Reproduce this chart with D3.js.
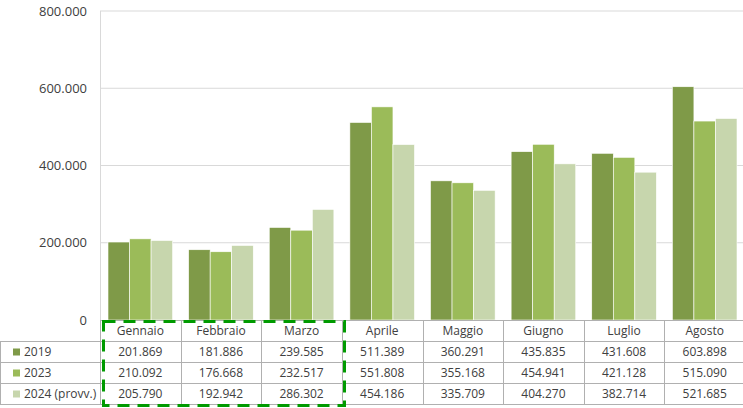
<!DOCTYPE html>
<html>
<head>
<meta charset="utf-8">
<script src="https://cdn.jsdelivr.net/npm/d3@7"></script>
<style>
  body { margin: 0; background: #fff; }
  svg { display: block; font-family: "Open Sans", "Noto Sans", sans-serif; }
</style>
</head>
<body>
<script>
const width = 743, height = 408;

const months = ["Gennaio", "Febbraio", "Marzo", "Aprile", "Maggio", "Giugno", "Luglio", "Agosto"];
const seriesNames = ["2019", "2023", "2024 (provv.)"];
const values2019 = [201869, 181886, 239585, 511389, 360291, 435835, 431608, 603898];
const values2023 = [210092, 176668, 232517, 551808, 355168, 454941, 421128, 515090];
const values2024 = [205790, 192942, 286302, 454186, 335709, 404270, 382714, 521685];
const yTicks = [0, 200000, 400000, 600000, 800000];
const colors = ["#7f9a48", "#9bbb59", "#c7d6ad"];

const series = [values2019, values2023, values2024];

const svg = d3.select("body").append("svg")
    .attr("width", width)
    .attr("height", height);

const plotLeft = 100, plotRight = 745, plotTop = 11, plotBottom = 320;

const y = d3.scaleLinear().domain([0, 800000]).range([plotBottom, plotTop]);
const x = d3.scaleBand().domain(months).range([plotLeft, plotRight]);
const xInner = d3.scaleBand().domain(seriesNames).range([8, x.bandwidth() - 8]);

const fmt = v => d3.format(",")(v).replace(/,/g, ".");

// gridlines
svg.append("g").selectAll("line")
    .data(yTicks.slice(1))
    .join("line")
    .attr("x1", plotLeft).attr("x2", plotRight)
    .attr("y1", d => y(d)).attr("y2", d => y(d))
    .attr("stroke", "#d9d9d9").attr("stroke-width", 1);

// left plot border
svg.append("line")
    .attr("x1", plotLeft + 0.5).attr("x2", plotLeft + 0.5)
    .attr("y1", plotTop).attr("y2", plotBottom)
    .attr("stroke", "#d9d9d9");

// y labels
svg.append("g").selectAll("text")
    .data(yTicks)
    .join("text")
    .attr("x", 87)
    .attr("y", d => y(d))
    .attr("dy", "0.35em")
    .attr("text-anchor", "end")
    .attr("font-size", 13)
    .attr("fill", "#404040")
    .text(d => d === 0 ? "0" : fmt(d));

// bars
series.forEach((vals, si) => {
    svg.append("g").selectAll("rect")
        .data(months.map((m, i) => ({m, v: vals[i]})))
        .join("rect")
        .attr("x", d => x(d.m) + xInner(seriesNames[si]))
        .attr("width", xInner.bandwidth())
        .attr("y", d => y(d.v))
        .attr("height", d => plotBottom - y(d.v))
        .attr("fill", colors[si])
        .attr("stroke", "#fff")
        .attr("stroke-width", 0.6);
});

// data table
const rowTop = [320, 341, 362, 383];
const rowH = 21;
const tableBottom = 404;
const grid = svg.append("g").attr("stroke", "#b0b0b0").attr("stroke-width", 1);

// axis line / header top
grid.append("line").attr("x1", plotLeft).attr("x2", plotRight).attr("y1", plotBottom + 0.5).attr("y2", plotBottom + 0.5);
// row separators
[341, 362, 383, 404].forEach(yy => {
    grid.append("line").attr("x1", 0).attr("x2", plotRight).attr("y1", yy + 0.5).attr("y2", yy + 0.5);
});
// column separators
months.forEach(m => {
    grid.append("line").attr("x1", Math.round(x(m)) + 0.5).attr("x2", Math.round(x(m)) + 0.5)
        .attr("y1", plotBottom).attr("y2", tableBottom);
});
grid.append("line").attr("x1", 0.5).attr("x2", 0.5).attr("y1", 341).attr("y2", tableBottom);

// header
svg.append("g").selectAll("text")
    .data(months)
    .join("text")
    .attr("x", d => x(d) + x.bandwidth() / 2)
    .attr("y", rowTop[0] + rowH / 2 + 0.5)
    .attr("dy", "0.35em")
    .attr("text-anchor", "middle")
    .attr("font-size", 12)
    .attr("fill", "#404040")
    .text(d => d);

// legend cells + values
series.forEach((vals, si) => {
    const cy = rowTop[si + 1] + rowH / 2 + 0.5;
    svg.append("rect")
        .attr("x", 13).attr("y", cy - 3.5)
        .attr("width", 7).attr("height", 7)
        .attr("fill", colors[si]);
    svg.append("text")
        .attr("x", 24).attr("y", cy).attr("dy", "0.35em")
        .attr("font-size", 12).attr("fill", "#404040")
        .text(seriesNames[si]);
    svg.append("g").selectAll("text")
        .data(months.map((m, i) => ({m, v: vals[i]})))
        .join("text")
        .attr("x", d => x(d.m) + x.bandwidth() / 2)
        .attr("y", cy)
        .attr("dy", "0.35em")
        .attr("text-anchor", "middle")
        .attr("font-size", 12)
        .attr("fill", "#404040")
        .text(d => fmt(d.v));
});

// dashed highlight around first quarter
svg.append("rect")
    .attr("x", 103.5).attr("y", 321.5)
    .attr("width", 241).attr("height", 84)
    .attr("fill", "none")
    .attr("stroke", "#009a00")
    .attr("stroke-width", 3)
    .attr("stroke-dasharray", "12 8");
</script>
</body>
</html>
